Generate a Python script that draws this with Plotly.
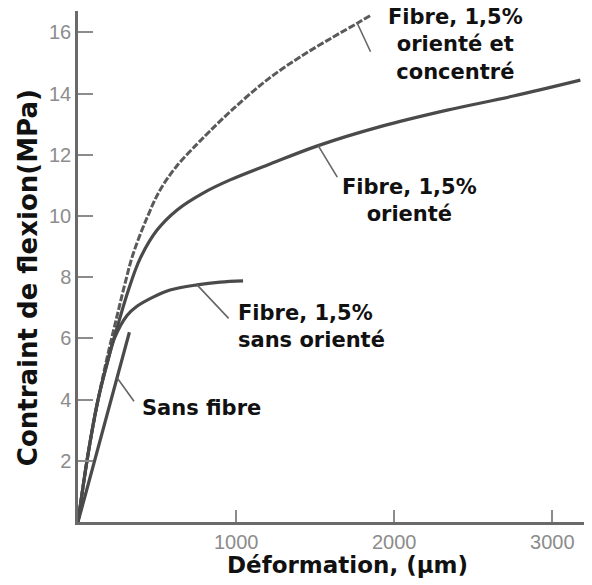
import plotly.graph_objects as go

# Flexural stress (MPa) versus strain (µm) for four beam mixes
conc_x = [0, 63, 127, 190, 250, 300, 348, 437, 519, 627, 753, 835, 981, 1196, 1405, 1614, 1766, 1848]
conc_y = [0, 2.2, 4.0, 5.5, 6.8, 7.85, 8.75, 9.95, 10.85, 11.65, 12.35, 12.78, 13.5, 14.45, 15.2, 15.85, 16.3, 16.55]

orient_x = [0, 63, 127, 190, 250, 320, 392, 500, 627, 791, 962, 1215, 1519, 1911, 2335, 2753, 3177]
orient_y = [0, 2.2, 4.0, 5.3, 6.4, 7.6, 8.6, 9.54, 10.2, 10.75, 11.18, 11.7, 12.3, 12.92, 13.46, 13.92, 14.44]

random_x = [0, 63, 127, 190, 230, 310, 373, 475, 582, 753, 899, 1044]
random_y = [0, 2.2, 4.0, 5.3, 6.0, 6.75, 7.05, 7.35, 7.58, 7.75, 7.84, 7.88]

plain_x = [0, 325]
plain_y = [0, 6.2]

x_ticks = [1000, 2000, 3000]
y_ticks = [2, 4, 6, 8, 10, 12, 14, 16]

label_conc = "Fibre, 1,5%<br>orienté et<br>concentré"
label_orient = "Fibre, 1,5%<br>orienté"
label_random = "Fibre, 1,5%<br>sans orienté"
label_plain = "Sans fibre"
x_title = "Déformation, (µm)"
y_title = "Contraint de flexion(MPa)"

INK = "#4a4a4a"
TICK_GREY = "#8c8c8c"
BOLD = dict(family="DejaVu Sans", size=21, color="#111111", weight="bold")

fig = go.Figure()
fig.add_trace(go.Scatter(x=conc_x, y=conc_y, mode="lines",
                         line=dict(color="#5a5a5a", width=3, dash="7px,2px", shape="spline")))
fig.add_trace(go.Scatter(x=orient_x, y=orient_y, mode="lines",
                         line=dict(color=INK, width=3.2, shape="spline")))
fig.add_trace(go.Scatter(x=random_x, y=random_y, mode="lines",
                         line=dict(color=INK, width=3.2, shape="spline")))
fig.add_trace(go.Scatter(x=plain_x, y=plain_y, mode="lines",
                         line=dict(color=INK, width=3.2)))

# curve labels
fig.add_annotation(x=2386, y=15.6, text=label_conc, showarrow=False, font=BOLD, align="center")
fig.add_annotation(x=2095, y=10.5, text=label_orient, showarrow=False, font=BOLD, align="center")
fig.add_annotation(x=1000, y=6.4, text=label_random, showarrow=False, font=BOLD,
                   xanchor="left", align="left")
fig.add_annotation(x=778, y=3.73, text=label_plain, showarrow=False, font=BOLD)

# leader lines from each label to its curve
leader = dict(showarrow=True, arrowhead=0, arrowwidth=1.6, arrowcolor="#666666", text="")
fig.add_annotation(x=conc_x[16], y=conc_y[16], ax=14, ay=30, **leader)
fig.add_annotation(x=orient_x[12], y=orient_y[12], ax=20, ay=33, **leader)
fig.add_annotation(x=random_x[9], y=random_y[9], ax=33, ay=35, **leader)
fig.add_annotation(x=plain_x[1] * 0.76, y=plain_y[1] * 0.76, ax=18, ay=25, **leader)

# axis titles
fig.add_annotation(xref="paper", yref="paper", x=0.532, y=-0.084, xanchor="center", yanchor="middle",
                   text=x_title, showarrow=False,
                   font=dict(family="DejaVu Sans", size=23, color="#111111", weight="bold"))
fig.add_annotation(xref="paper", yref="paper", x=-0.099, y=0.479, xanchor="center", yanchor="middle",
                   text=y_title, textangle=-90, showarrow=False,
                   font=dict(family="DejaVu Sans", size=26, color="#111111", weight="bold"))

fig.update_layout(
    width=592, height=585,
    margin=dict(l=78, r=8, t=11, b=63),
    paper_bgcolor="white", plot_bgcolor="white",
    showlegend=False,
)
fig.update_xaxes(
    range=[0, 3200], tickvals=x_ticks, ticktext=[str(v) for v in x_ticks],
    ticks="inside", ticklen=12, tickwidth=1.5, tickcolor=TICK_GREY,
    showline=True, linecolor="#6a6a6a", linewidth=2.5,
    showgrid=False, zeroline=False,
    tickfont=dict(family="Liberation Sans", size=20, color=TICK_GREY),
)
fig.update_yaxes(
    range=[0, 16.7], tickvals=y_ticks, ticktext=[str(v) for v in y_ticks],
    ticks="inside", ticklen=15, tickwidth=1.5, tickcolor=TICK_GREY,
    showline=True, linecolor="#6a6a6a", linewidth=2.5,
    showgrid=False, zeroline=False,
    tickfont=dict(family="Liberation Sans", size=20, color=TICK_GREY),
)

fig.write_html("out.html")
